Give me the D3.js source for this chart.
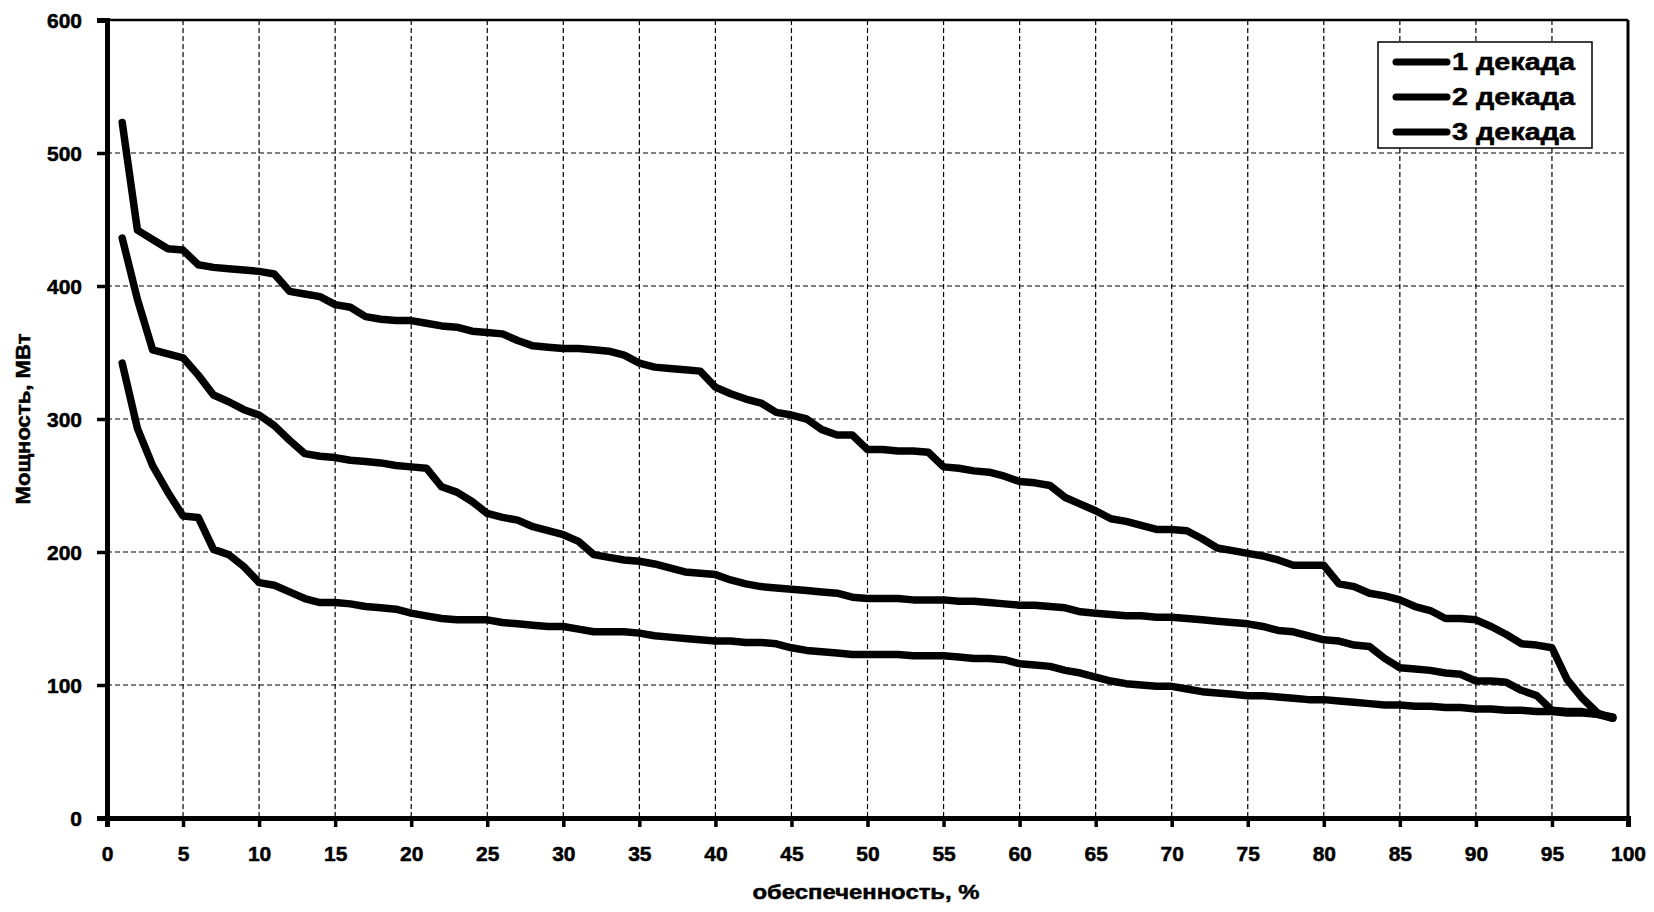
<!DOCTYPE html>
<html>
<head>
<meta charset="utf-8">
<script src="https://cdn.jsdelivr.net/npm/d3@7"></script>
<style>
  html, body { margin: 0; padding: 0; background: #fff; }
  svg { display: block; }
  text { font-family: "Liberation Sans", Arial, sans-serif; font-weight: bold; fill: #000; stroke: #000; stroke-width: 0.5px; }
</style>
</head>
<body>
<script>
const pct = [1,2,3,4,5,6,7,8,9,10,11,12,13,14,15,16,17,18,19,20,21,22,23,24,25,26,27,28,29,30,31,32,33,34,35,36,37,38,39,40,41,42,43,44,45,46,47,48,49,50,51,52,53,54,55,56,57,58,59,60,61,62,63,64,65,66,67,68,69,70,71,72,73,74,75,76,77,78,79,80,81,82,83,84,85,86,87,88,89,90,91,92,93,94,95,96,97,98,99];

const dekada1 = [523,442,435,428,427,416,414,413,412,411,
  409,396,394,392,386,384,377,375,374,374,
  372,370,369,366,365,364,359,355,354,353,
  353,352,351,348,342,339,338,337,336,324,
  319,315,312,305,303,300,292,288,288,277,
  277,276,276,275,264,263,261,260,257,253,
  252,250,241,236,231,225,223,220,217,217,
  216,210,203,201,199,197,194,190,190,190,
  176,174,169,167,164,159,156,150,150,149,
  144,138,131,130,128,104,90,79,75];

const dekada2 = [436,390,352,349,346,333,318,313,307,303,
  295,284,274,272,271,269,268,267,265,264,
  263,249,245,238,229,226,224,219,216,213,
  208,198,196,194,193,191,188,185,184,183,
  179,176,174,173,172,171,170,169,166,165,
  165,165,164,164,164,163,163,162,161,160,
  160,159,158,155,154,153,152,152,151,151,
  150,149,148,147,146,144,141,140,137,134,
  133,130,129,120,113,112,111,109,108,103,
  103,102,96,92,81,80,80,78,76];

const dekada3 = [342,293,265,245,227,226,202,198,189,177,
  175,170,165,162,162,161,159,158,157,154,
  152,150,149,149,149,147,146,145,144,144,
  142,140,140,140,139,137,136,135,134,133,
  133,132,132,131,128,126,125,124,123,123,
  123,123,122,122,122,121,120,120,119,116,
  115,114,111,109,106,103,101,100,99,99,
  97,95,94,93,92,92,91,90,89,89,
  88,87,86,85,85,84,84,83,83,82,
  82,81,81,80,80,79,79,78,75];

const seriesNames = ["1 декада", "2 декада", "3 декада"];
const xTicks = [0,5,10,15,20,25,30,35,40,45,50,55,60,65,70,75,80,85,90,95,100];
const yTicks = [0,100,200,300,400,500,600];
const xTitle = "обеспеченность, %";
const yTitle = "Мощность, МВт";

const W = 1654, H = 912;
const margin = {left: 107, right: 26, top: 20, bottom: 94};
const pw = W - margin.left - margin.right;
const ph = H - margin.top - margin.bottom;

const svg = d3.select("body").append("svg").attr("width", W).attr("height", H);
const g = svg.append("g").attr("transform", `translate(${margin.left},${margin.top})`);

const x = d3.scaleLinear().domain([0, 100]).range([0, pw]);
const y = d3.scaleLinear().domain([0, 600]).range([ph, 0]);

// grid
g.append("g").selectAll("line")
  .data(xTicks.filter(d => d > 0 && d < 100))
  .join("line")
  .attr("x1", d => x(d)).attr("x2", d => x(d))
  .attr("y1", 0).attr("y2", ph)
  .attr("stroke", "#000").attr("stroke-width", 1.2)
  .attr("stroke-dasharray", "5,3");
g.append("g").selectAll("line")
  .data(yTicks.filter(d => d > 0 && d < 600))
  .join("line")
  .attr("x1", 0).attr("x2", pw)
  .attr("y1", d => y(d)).attr("y2", d => y(d))
  .attr("stroke", "#000").attr("stroke-width", 1.2)
  .attr("stroke-dasharray", "5,3");

// frame top/right
g.append("line").attr("x1", 0).attr("x2", pw).attr("y1", 0).attr("y2", 0)
  .attr("stroke", "#000").attr("stroke-width", 2.5);
g.append("line").attr("x1", pw).attr("x2", pw).attr("y1", 0).attr("y2", ph)
  .attr("stroke", "#000").attr("stroke-width", 3);

// axes
const xAxis = d3.axisBottom(x).tickValues(xTicks).tickSize(9).tickPadding(19).tickFormat(d3.format("d"));
const yAxis = d3.axisLeft(y).tickValues(yTicks).tickSize(10).tickPadding(15).tickFormat(d3.format("d"));

const gx = g.append("g").attr("transform", `translate(0,${ph})`).call(xAxis);
const gy = g.append("g").call(yAxis);
[gx, gy].forEach(ax => {
  ax.select(".domain").attr("stroke", "#000").attr("stroke-width", 5);
  ax.selectAll(".tick line").attr("stroke", "#000").attr("stroke-width", 3.5);
  ax.selectAll(".tick text").style("font-size", "21px").style("font-weight", "bold")
    .style("font-family", '"Liberation Sans", Arial, sans-serif')
    .style("stroke", "#000").style("stroke-width", "0.5px");
});
gy.selectAll(".tick text").attr("dy", "0.36em");

// lines
const line = d3.line().x((d, i) => x(pct[i])).y(d => y(d)).curve(d3.curveLinear);
[dekada1, dekada2, dekada3].forEach(s => {
  g.append("path").datum(s).attr("d", line)
    .attr("fill", "none").attr("stroke", "#000").attr("stroke-width", 7.5)
    .attr("stroke-linejoin", "round").attr("stroke-linecap", "round");
});

// axis titles
svg.append("text").attr("x", 866).attr("y", 899)
  .attr("text-anchor", "middle").style("font-size", "20px")
  .attr("textLength", 227).attr("lengthAdjust", "spacingAndGlyphs").text(xTitle);
svg.append("text").attr("transform", `translate(30,${margin.top + ph / 2}) rotate(-90)`)
  .attr("text-anchor", "middle").style("font-size", "20px")
  .attr("textLength", 171).attr("lengthAdjust", "spacingAndGlyphs").text(yTitle);

// legend
const lg = svg.append("g").attr("transform", "translate(1378,42)");
lg.append("rect").attr("width", 214).attr("height", 106)
  .attr("fill", "#fff").attr("stroke", "#000").attr("stroke-width", 1.5);
seriesNames.forEach((name, i) => {
  const cy = 20 + i * 35;
  lg.append("line").attr("x1", 18).attr("x2", 69).attr("y1", cy).attr("y2", cy)
    .attr("stroke", "#000").attr("stroke-width", 7).attr("stroke-linecap", "round");
  lg.append("text").attr("x", 74).attr("y", cy).attr("dy", "0.36em")
    .style("font-size", "23px")
    .attr("textLength", 123).attr("lengthAdjust", "spacingAndGlyphs").text(name);
});
</script>
</body>
</html>
